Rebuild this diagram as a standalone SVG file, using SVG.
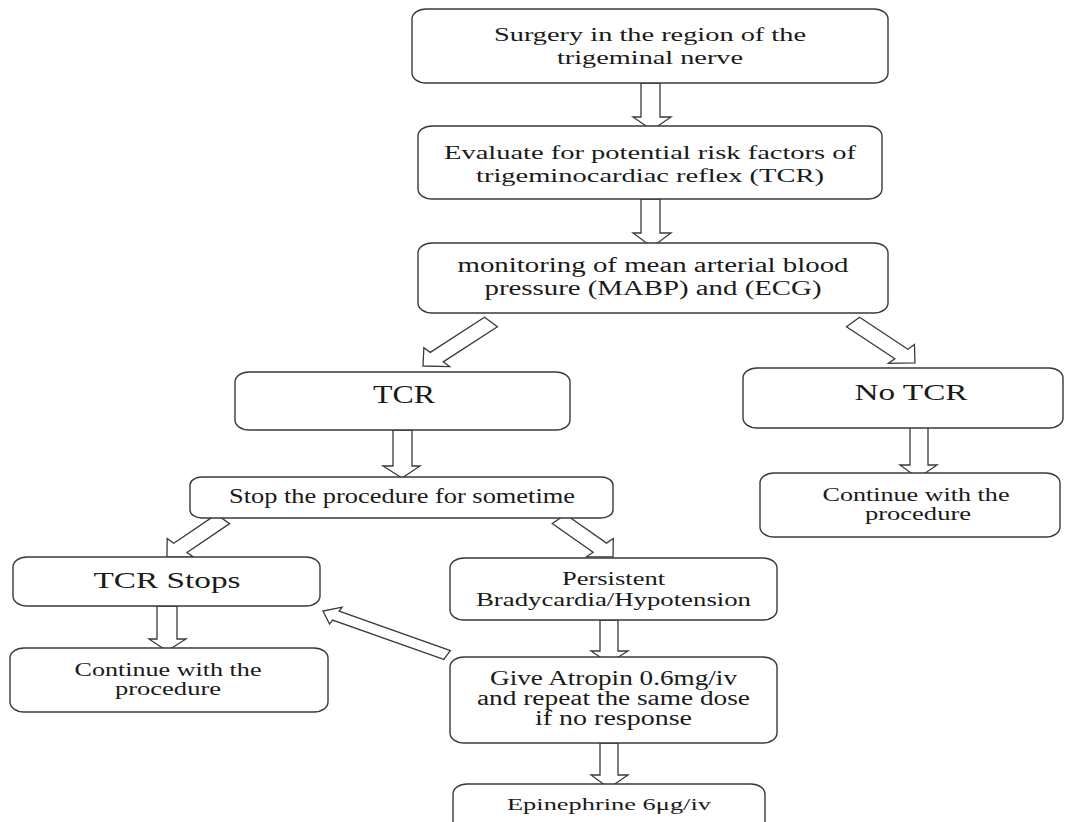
<svg xmlns="http://www.w3.org/2000/svg" width="1069" height="822" viewBox="0 0 1069 822">
<style>
.box{fill:#fff;stroke:#3a3a3a;stroke-width:1.4}
.arr{fill:#fff;stroke:#3a3a3a;stroke-width:1.3;vector-effect:non-scaling-stroke}
text{font-family:"Liberation Serif","Times New Roman",serif;fill:#1a1a1a;text-anchor:middle}
</style>
<rect width="1069" height="822" fill="#fff"/>
<g id="connectors">
  <path class="arr" d="M641,83 H660 V117 H671 L652,130 L633,117 H641 Z"/>
  <path class="arr" d="M641,199 H660 V233 H671 L652,247 L633,233 H641 Z"/>
  <path class="arr" d="M393,430 H412 V466 H420 L402,478 L383,466 H393 Z"/>
  <path class="arr" d="M910,427 H928 V465 H937 L918,478 L900,465 H910 Z"/>
  <path class="arr" d="M157,606 H177 V639 H186 L167,651 L149,639 H157 Z"/>
  <path class="arr" d="M600,620 H618 V651 H628 L609,663 L591,651 H600 Z"/>
  <path class="arr" d="M600,743 H618 V775 H628 L609,788 L591,775 H600 Z"/>
  <g transform="scale(1.45,1)">
    <path class="arr" transform="translate(338.6,322) rotate(136.8)" d="M0,-6.5 H51.3 V-13 L64.3,0 L51.3,13 V6.5 H0 Z"/>
    <path class="arr" transform="translate(588.3,322) rotate(43.8)" d="M0,-6.5 H46.2 V-13 L59.2,0 L46.2,13 V6.5 H0 Z"/>
    <path class="arr" transform="translate(153.8,519) rotate(135.5)" d="M0,-6.5 H41.2 V-13 L54.2,0 L41.2,13 V6.5 H0 Z"/>
    <path class="arr" transform="translate(385.5,519) rotate(45.5)" d="M0,-6.5 H40.2 V-13 L53.2,0 L40.2,13 V6.5 H0 Z"/>
    <path class="arr" transform="translate(308.3,655) rotate(207.2)" d="M0,-5 H86.2 V-9.5 L96.2,0 L86.2,9.5 V5 H0 Z"/>
  </g>
</g>
<g id="n-surgery">
  <rect class="box" x="412" y="9" width="476" height="74" rx="14" ry="10"/>
  <text x="650" y="41" font-size="19" textLength="312" lengthAdjust="spacingAndGlyphs">Surgery in the region of the</text>
  <text x="650" y="64" font-size="19" textLength="186" lengthAdjust="spacingAndGlyphs">trigeminal nerve</text>
</g>
<g id="n-evaluate">
  <rect class="box" x="418" y="126" width="464" height="73" rx="14" ry="10"/>
  <text x="650" y="159" font-size="19" textLength="412" lengthAdjust="spacingAndGlyphs">Evaluate for potential risk factors of</text>
  <text x="650" y="182" font-size="19" textLength="348" lengthAdjust="spacingAndGlyphs">trigeminocardiac reflex (TCR)</text>
</g>
<g id="n-monitoring">
  <rect class="box" x="418" y="243" width="470" height="70" rx="14" ry="10"/>
  <text x="653" y="272" font-size="20" textLength="391" lengthAdjust="spacingAndGlyphs">monitoring of mean arterial blood</text>
  <text x="653" y="295" font-size="20" textLength="337" lengthAdjust="spacingAndGlyphs">pressure (MABP) and (ECG)</text>
</g>
<g id="n-tcr">
  <rect class="box" x="235" y="372" width="335" height="58" rx="14" ry="10"/>
  <text x="404" y="403" font-size="25" textLength="62" lengthAdjust="spacingAndGlyphs">TCR</text>
</g>
<g id="n-notcr">
  <rect class="box" x="743" y="368" width="320" height="60" rx="14" ry="10"/>
  <text x="911" y="400" font-size="23" textLength="113" lengthAdjust="spacingAndGlyphs">No TCR</text>
</g>
<g id="n-stop">
  <rect class="box" x="190" y="477" width="423" height="41" rx="12" ry="8"/>
  <text x="402" y="503" font-size="21" textLength="346" lengthAdjust="spacingAndGlyphs">Stop the procedure for sometime</text>
</g>
<g id="n-continue-right">
  <rect class="box" x="760" y="473" width="300" height="64" rx="14" ry="10"/>
  <text x="916" y="501" font-size="19" textLength="187" lengthAdjust="spacingAndGlyphs">Continue with the</text>
  <text x="918" y="520" font-size="19" textLength="106" lengthAdjust="spacingAndGlyphs">procedure</text>
</g>
<g id="n-tcrstops">
  <rect class="box" x="13" y="557" width="307" height="49" rx="14" ry="10"/>
  <text x="167" y="588" font-size="23" textLength="147" lengthAdjust="spacingAndGlyphs">TCR Stops</text>
</g>
<g id="n-persistent">
  <rect class="box" x="450" y="558" width="327" height="62" rx="14" ry="10"/>
  <text x="613.5" y="585" font-size="18" textLength="103" lengthAdjust="spacingAndGlyphs">Persistent</text>
  <text x="613.5" y="606" font-size="18" textLength="275" lengthAdjust="spacingAndGlyphs">Bradycardia/Hypotension</text>
</g>
<g id="n-continue-left">
  <rect class="box" x="10" y="648" width="318" height="64" rx="14" ry="10"/>
  <text x="168" y="676" font-size="19" textLength="187" lengthAdjust="spacingAndGlyphs">Continue with the</text>
  <text x="168" y="695" font-size="19" textLength="106" lengthAdjust="spacingAndGlyphs">procedure</text>
</g>
<g id="n-atropin">
  <rect class="box" x="450" y="657" width="327" height="86" rx="14" ry="10"/>
  <text x="613.5" y="685" font-size="20" textLength="247" lengthAdjust="spacingAndGlyphs">Give Atropin 0.6mg/iv</text>
  <text x="613.5" y="705" font-size="20" textLength="273" lengthAdjust="spacingAndGlyphs">and repeat the same dose</text>
  <text x="613.5" y="725" font-size="20" textLength="157" lengthAdjust="spacingAndGlyphs">if no response</text>
</g>
<g id="n-epinephrine">
  <rect class="box" x="453" y="784" width="312" height="50" rx="14" ry="10"/>
  <text x="609" y="810" font-size="17" textLength="204" lengthAdjust="spacingAndGlyphs">Epinephrine 6μg/iv</text>
</g>
</svg>
